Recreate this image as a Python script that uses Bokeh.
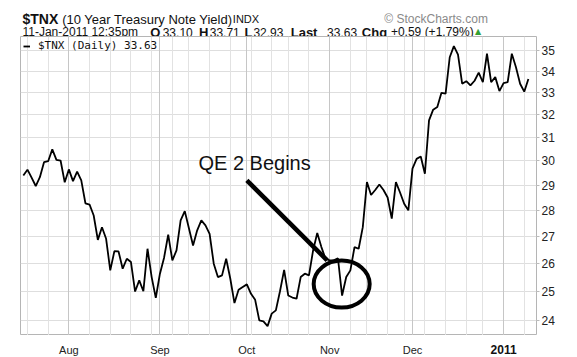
import pandas as pd
from bokeh.plotting import figure
from bokeh.layouts import column
from bokeh.models import (Range1d, FixedTicker, Legend, LegendItem, Label,
                          PrintfTickFormatter, Grid, ColumnDataSource)
from bokeh.core.properties import value
from bokeh.embed import file_html
from bokeh.resources import INLINE

# ---------------- data ----------------
symbol = "$TNX"
long_name = "(10 Year Treasury Note Yield)"
exchange = "INDX"
stamp = "11-Jan-2011 12:35pm"
open_v, high_v, low_v, last_v = 33.10, 33.71, 32.93, 33.63
chg_v, chg_pct = 0.59, 1.79

holidays = ["2010-09-06", "2010-10-11", "2010-11-11", "2010-11-25", "2010-12-24"]
dates = [d for d in pd.bdate_range("2010-07-16", "2011-01-11")
         if d.strftime("%Y-%m-%d") not in holidays]

yields = [
    29.39, 29.63, 29.30, 28.96, 29.32, 29.94, 29.98, 30.48, 30.04, 30.01,
    29.11, 29.64, 29.16, 29.55, 29.19, 28.27, 28.22, 27.79, 26.86, 27.34,
    26.90, 25.74, 26.44, 26.43, 25.80, 26.16, 26.04, 24.99, 25.38, 25.00,
    26.53, 25.50, 24.77, 25.62, 26.20, 27.06, 26.10, 26.47, 27.60, 27.96,
    27.30, 26.65, 27.22, 27.60, 27.41, 27.09, 25.98, 25.50, 25.56, 26.16,
    25.44, 24.59, 25.05, 25.15, 25.24, 24.91, 24.70, 24.00, 23.97, 23.81,
    24.23, 24.34, 25.00, 25.76, 24.85, 24.78, 24.74, 25.50, 25.62, 25.56,
    26.47, 27.12, 26.59, 26.16, 26.10, 26.10, 26.18, 24.85, 25.50, 25.74,
    26.59, 26.53, 27.34, 29.12, 28.60, 28.80, 29.02, 28.80, 28.50, 27.67,
    29.12, 28.70, 28.25, 27.99, 29.67, 30.08, 30.18, 29.46, 31.74, 32.22,
    32.34, 32.99, 32.95, 34.67, 35.21, 34.80, 33.41, 33.53, 33.33, 33.55,
    33.93, 33.48, 34.84, 33.48, 33.72, 33.07, 33.44, 33.48, 34.84, 34.19,
    33.41, 33.04, 33.63,
]
assert len(yields) == len(dates), (len(yields), len(dates))

month_names = {8: "Aug", 9: "Sep", 10: "Oct", 11: "Nov", 12: "Dec", 1: "2011"}
y_ticks = list(range(24, 36))
qe2_date = "2010-11-03"
qe2_text = "QE 2 Begins"

# ---------------- derived positions ----------------
idx = list(range(len(dates)))
month_idx = [i for i in idx if i > 0 and dates[i].month != dates[i - 1].month]
week_idx = [i for i in idx if i > 0 and dates[i].weekday() < dates[i - 1].weekday()]
qe2_i = [d.strftime("%Y-%m-%d") for d in dates].index(qe2_date)

W = 577
HEAD_H, MAIN_H, FOOT_H = 36, 299, 22
FL, FR = 20, 536
HL = 16
SANS = "Liberation Sans"

xr = Range1d(-0.68, 123.96)

# ---------------- header ----------------
head = figure(width=W, height=HEAD_H, output_backend="svg",
              toolbar_location=None, x_axis_type=None, y_axis_type=None,
              x_range=Range1d(HL, FR), y_range=Range1d(HEAD_H, 0),
              min_border_left=HL, min_border_right=W - FR,
              min_border_top=0, min_border_bottom=0, outline_line_color=None)
head.background_fill_color = "white"
head.border_fill_color = "white"
head.xgrid.visible = False
head.ygrid.visible = False


def hdr(text, x, y, size, bold=False, color="#111111", font=SANS, align="left"):
    head.text(x=[x], y=[y], text=[text], text_font=value(font),
              text_font_size=f"{size}px",
              text_font_style="bold" if bold else "normal",
              text_color=color, text_align=align, text_baseline="alphabetic")


hdr(symbol, 18, 18.5, 14, bold=True)
hdr(long_name, 58, 18.5, 13)
hdr(exchange, 230, 18.5, 11)
hdr("\u00a9 StockCharts.com", 487, 18.5, 12, color="#8a8a8a", align="right")
hdr(stamp, 18, 31.5, 12)
hdr("O", 146.7, 31.5, 13, bold=True)
hdr(f"{open_v:.2f}", 159.3, 31.5, 12)
hdr("H", 196, 31.5, 13, bold=True)
hdr(f"{high_v:.2f}", 206.7, 31.5, 12)
hdr("L", 241.7, 31.5, 13, bold=True)
hdr(f"{low_v:.2f}", 250.7, 31.5, 12)
hdr("Last", 288.3, 31.5, 13, bold=True)
hdr(f"{last_v:.2f}", 325, 31.5, 12)
hdr("Chg", 360, 31.5, 13, bold=True)
hdr(f"+{chg_v:.2f} (+{chg_pct:.2f}%)", 389.3, 31.5, 12)
hdr("\u25b2", 474, 30.5, 8, color="#33a033", font="DejaVu Sans")

# ---------------- main chart ----------------
p = figure(width=W, height=MAIN_H, output_backend="svg",
           toolbar_location=None,
           y_axis_type="log", y_axis_location="right", x_axis_type=None,
           x_range=xr, y_range=Range1d(23.50, 35.69),
           min_border_left=FL, min_border_right=W - FR,
           min_border_top=0, min_border_bottom=0)
p.background_fill_color = "white"
p.border_fill_color = "white"
p.outline_line_color = "#b5b5b5"
p.outline_line_width = 1

src = ColumnDataSource(dict(i=idx, v=yields))

p.ygrid.ticker = FixedTicker(ticks=y_ticks)
p.ygrid.grid_line_color = "#dedede"
p.add_layout(Grid(dimension=0, ticker=FixedTicker(ticks=week_idx),
                  grid_line_color="#e2e2e2"))
p.add_layout(Grid(dimension=0, ticker=FixedTicker(ticks=month_idx),
                  grid_line_color="#c6c6c6"))

p.yaxis.ticker = FixedTicker(ticks=y_ticks)
p.yaxis.formatter = PrintfTickFormatter(format="%d")
p.yaxis.axis_line_color = None
p.yaxis.major_tick_line_color = "#bbbbbb"
p.yaxis.major_tick_out = 3
p.yaxis.major_tick_in = 0
p.yaxis.minor_tick_line_color = None
p.yaxis.major_label_standoff = 2
p.yaxis.major_label_text_font = SANS
p.yaxis.major_label_text_font_size = "12px"
p.yaxis.major_label_text_color = "#222222"

r = p.line(x="i", y="v", source=src, line_color="black", line_width=1.8)

legend = Legend(items=[LegendItem(label=f"{symbol} (Daily) {yields[-1]:.2f}", renderers=[r])],
                location="top_left", margin=0, padding=3, glyph_width=7,
                glyph_height=12, label_height=12, label_standoff=8,
                label_text_font="DejaVu Sans Mono", label_text_font_size="11px",
                label_text_color="#111111",
                background_fill_alpha=0, border_line_alpha=0)
p.add_layout(legend)

# QE2 annotation
p.line(x=[qe2_i - 22.0, qe2_i - 2.6], y=[29.19, 26.10], line_color="black",
       line_width=4.5, line_cap="butt")
p.ellipse(x=[qe2_i + 0.9], y=[25.25], width=56, height=47,
          width_units="screen", height_units="screen",
          fill_color=None, line_color="black", line_width=4)
p.add_layout(Label(x=qe2_i - 33.7, y=29.89, text=qe2_text,
                   text_font=SANS, text_font_size="20px",
                   text_color="#111111", text_baseline="middle"))

# ---------------- footer (month labels) ----------------
foot = figure(width=W, height=FOOT_H, output_backend="svg",
              toolbar_location=None, x_axis_type=None, y_axis_type=None,
              x_range=xr, y_range=Range1d(FOOT_H, 0),
              min_border_left=FL, min_border_right=W - FR,
              min_border_top=0, min_border_bottom=0, outline_line_color=None)
foot.background_fill_color = "white"
foot.border_fill_color = "white"
foot.xgrid.visible = False
foot.ygrid.visible = False

normal_ticks = [i for i in month_idx if dates[i].month != 1]
year_ticks = [i for i in month_idx if dates[i].month == 1]
foot.text(x=normal_ticks, y=[14] * len(normal_ticks),
          text=[month_names[dates[i].month] for i in normal_ticks],
          text_font=value(SANS), text_font_size="11px", text_color="#222222",
          text_align="center", text_baseline="alphabetic")
foot.text(x=year_ticks, y=[14] * len(year_ticks),
          text=[month_names[dates[i].month] for i in year_ticks],
          text_font=value(SANS), text_font_size="12px", text_font_style="bold",
          text_color="#111111", text_align="center", text_baseline="alphabetic")

layout = column(head, p, foot, spacing=0)
open("out.html", "w").write(file_html(layout, INLINE))
